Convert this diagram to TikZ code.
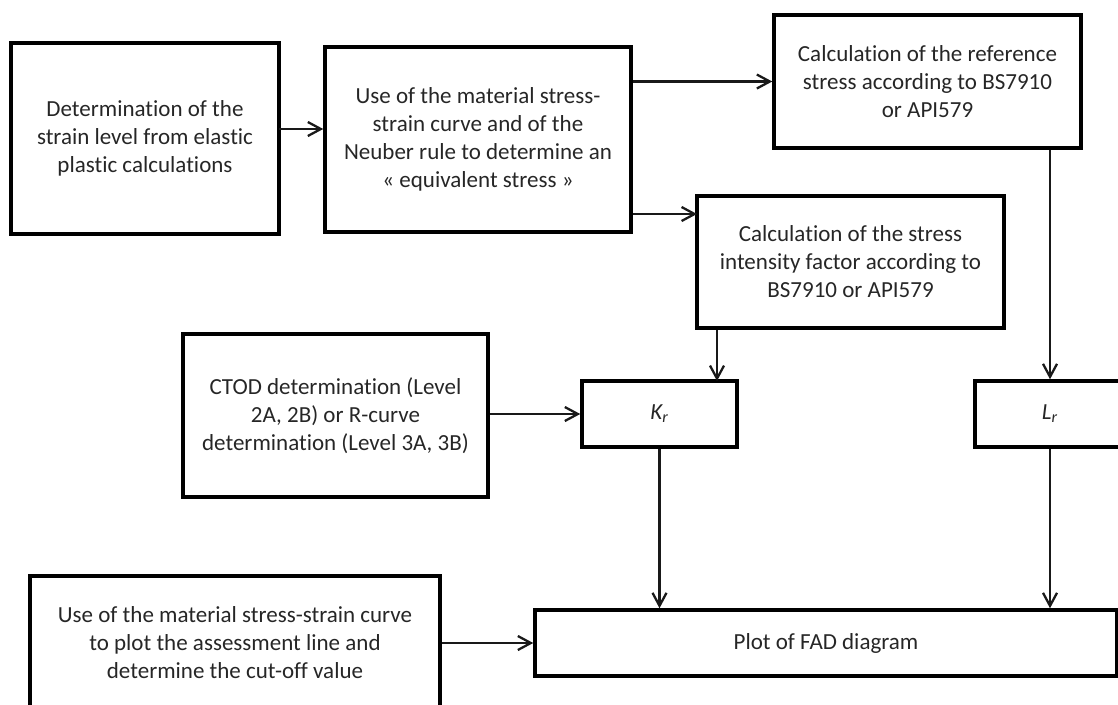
\documentclass[tikz,border=0pt]{standalone}
\usepackage{fontspec}
\setmainfont{Carlito}[Ligatures=NoCommon]
\usetikzlibrary{arrows.meta}

\tikzset{
  % Boxes of the flow chart, sized in sketch pixels
  block/.style 2 args={draw=black, line width=2pt, align=center, text=black!85,
    minimum width=#1*\px cm, minimum height=#2*\px cm, inner sep=0pt,
    font=\fontsize{13.1}{15.9}\selectfont},
  % Connectors between the boxes
  flow/.style={-{Straight Barb[length=2.6mm,width=2.8mm]}, line width=1.3pt, black!90},
}

\begin{document}
\begin{tikzpicture}

    % Define the size of one sketch pixel (in cm)
    \pgfmathsetmacro{\px}{0.02}

    % Work in pixels, y pointing down
    \begin{scope}[x=\px cm, y=-\px cm]

    % Fix the frame of the picture
    \useasboundingbox (0,0) rectangle (1118,704);

    % Top row: strain level and equivalent stress
    \node[block={268}{191}] (strain) at (145,138.5)
      {Determination of the\\strain level from elastic\\plastic calculations};
    \node[block={306}{185}] (neuber) at (478,139.5)
      {Use of the material stress-\\strain curve and of the\\Neuber rule to determine an\\« equivalent stress »};

    % The two calculations according to the codes
    \node[block={307}{133}] (refstress) at (927.5,81.5)
      {Calculation of the reference\\stress according to BS7910\\or API579};
    \node[block={307}{132}] (sif) at (850.5,262)
      {Calculation of the stress\\intensity factor according to\\BS7910 or API579};

    % Toughness input and the two ratios
    \node[block={305}{163}] (ctod) at (335.5,415.5)
      {CTOD determination (Level\\2A, 2B) or R-curve\\determination (Level 3A, 3B)};
    \node[block={155}{66}] (kr) at (659.5,414) {\itshape K\textsubscript{r}};
    \node[block={150}{66}] (lr) at (1050,414) {\itshape L\textsubscript{r}};

    % Bottom row: assessment line and the FAD
    \node[block={410}{134}] (curve) at (235,643)
      {Use of the material stress-strain curve\\to plot the assessment line and\\determine the cut-off value};
    \node[block={582}{66}] (fad) at (826,643) {Plot of FAD diagram};

    % Where the arrows leave or meet the boxes off their middles
    \coordinate (strainout) at (279,129);
    \coordinate (sifin) at (697,214);
    \coordinate (krin) at (717,381);

    % Draw the arrows
    \draw[flow] (strainout) -- (strainout -| neuber.west);
    \draw[flow] (neuber.east |- refstress.west) -- (refstress.west);
    \draw[flow] (neuber.east |- sifin) -- (sifin);
    \draw[flow] (sif.south -| krin) -- (krin);
    \draw[flow] (refstress.south -| lr.north) -- (lr.north);
    \draw[flow] (ctod.east |- kr.west) -- (kr.west);
    \draw[flow] (kr.south) -- (kr.south |- fad.north);
    \draw[flow] (lr.south) -- (lr.south |- fad.north);
    \draw[flow] (curve.east) -- (fad.west);

    \end{scope}

\end{tikzpicture}
\end{document}
